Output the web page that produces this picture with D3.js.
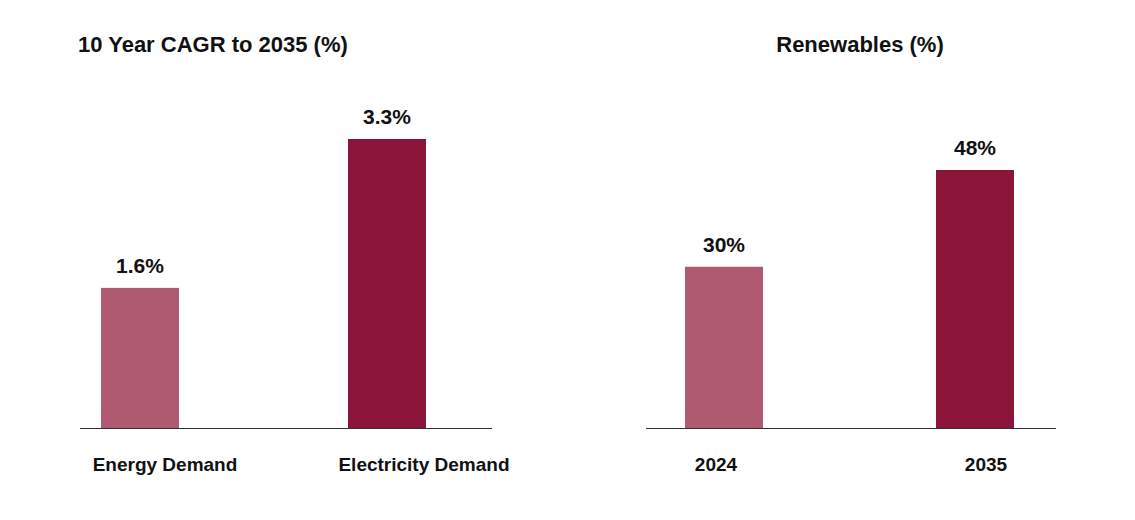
<!DOCTYPE html>
<html><head><meta charset="utf-8">
<script src="https://cdn.jsdelivr.net/npm/d3@7"></script>
<style>body{margin:0;background:#fff;font-family:"Liberation Sans",Arial,sans-serif}</style>
</head><body><svg id="c" width="1135" height="520"></svg>
<script>
// data
var cagrCategories = ['Energy Demand', 'Electricity Demand'];
var cagrValues = [1.6, 3.3];
var cagrLabels = ['1.6%', '3.3%'];
var renewCategories = ['2024', '2035'];
var renewValues = [30, 48];
var renewLabels = ['30%', '48%'];
var colors = ['#b05a72', '#8b1538'];

var svg = d3.select('#c');
var baseline = 428;

function panel(opt) {
    var x = d3.scaleLinear().domain([0, 1]).range([opt.x0, opt.x1]);
    var y = d3.scaleLinear().domain([0, opt.max]).range([baseline, baseline - opt.maxPx]);
    var g = svg.append('g');
    var barW = 78;

    g.selectAll('rect').data(opt.values).enter().append('rect')
        .attr('x', function(d, i) { return x(opt.pos[i]) - barW / 2; })
        .attr('y', function(d) { return y(d); })
        .attr('width', barW)
        .attr('height', function(d) { return baseline - y(d); })
        .attr('fill', function(d, i) { return colors[i]; });

    g.append('line')
        .attr('x1', opt.x0).attr('x2', opt.x1)
        .attr('y1', baseline + 0.5).attr('y2', baseline + 0.5)
        .attr('stroke', '#333').attr('stroke-width', 1);

    g.selectAll('text.val').data(opt.values).enter().append('text')
        .attr('class', 'val')
        .attr('x', function(d, i) { return x(opt.pos[i]); })
        .attr('y', function(d) { return y(d) - 15; })
        .attr('text-anchor', 'middle')
        .attr('font-size', '21px').attr('font-weight', 'bold').attr('fill', '#111')
        .text(function(d, i) { return opt.labels[i]; });

    g.selectAll('text.cat').data(opt.cats).enter().append('text')
        .attr('class', 'cat')
        .attr('x', function(d, i) { return x(opt.pos[i]) + opt.catOff[i]; })
        .attr('y', 471)
        .attr('text-anchor', 'middle')
        .attr('font-size', '19px').attr('font-weight', 'bold').attr('fill', '#111')
        .text(function(d) { return d; });

    g.append('text')
        .attr('x', opt.titleX).attr('y', 52)
        .attr('text-anchor', opt.titleAnchor)
        .attr('font-size', '22px').attr('font-weight', 'bold').attr('fill', '#111')
        .text(opt.title);
}

panel({ x0: 80, x1: 492, pos: [0.1456, 0.7451], values: cagrValues, labels: cagrLabels,
    cats: cagrCategories, catOff: [25, 37], max: 3.3, maxPx: 289,
    title: '10 Year CAGR to 2035 (%)', titleX: 78, titleAnchor: 'start' });
panel({ x0: 646, x1: 1056, pos: [0.1902, 0.8024], values: renewValues, labels: renewLabels,
    cats: renewCategories, catOff: [-8, 11], max: 48, maxPx: 258,
    title: 'Renewables (%)', titleX: 860, titleAnchor: 'middle' });
</script></body></html>
